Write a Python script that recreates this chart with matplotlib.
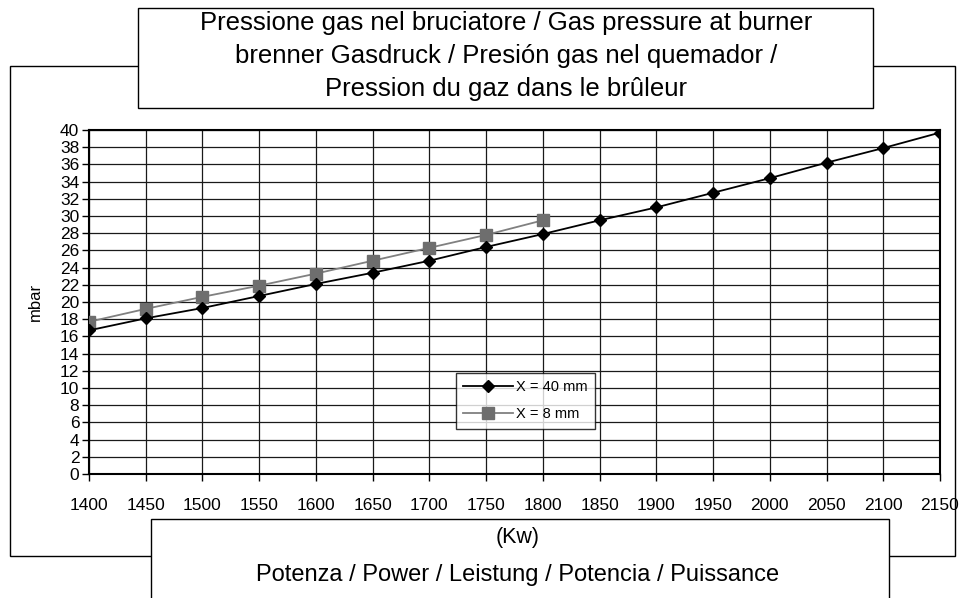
import numpy as np
import matplotlib
matplotlib.use("Agg")
import matplotlib.pyplot as plt
from matplotlib.patches import Rectangle

plt.rcParams['font.family'] = ['Liberation Sans', 'DejaVu Sans']

# data
power = [1400, 1450, 1500, 1550, 1600, 1650, 1700, 1750, 1800,
         1850, 1900, 1950, 2000, 2050, 2100, 2150]
p_40mm = [16.7, 18.1, 19.3, 20.7, 22.1, 23.4, 24.8, 26.4, 27.9,
          29.5, 31.0, 32.7, 34.4, 36.2, 37.9, 39.7]
power_8 = [1400, 1450, 1500, 1550, 1600, 1650, 1700, 1750, 1800]
p_8mm = [17.7, 19.2, 20.6, 21.9, 23.3, 24.8, 26.3, 27.8, 29.5]

labels = ['X = 40 mm', 'X = 8 mm']
title_lines = ["Pressione gas nel bruciatore / Gas pressure at burner",
               "brenner Gasdruck / Presión gas nel quemador /",
               "Pression du gaz dans le brûleur"]
xlabel1 = "(Kw)"
xlabel2 = "Potenza / Power / Leistung / Potencia / Puissance"

W, H = 960, 598
fig = plt.figure(figsize=(W / 100, H / 100), dpi=100)


def box(x0, y0, x1, y1, z):
    # rectangle from pixel corners (top-left origin)
    r = Rectangle((x0 / W, 1 - y1 / H), (x1 - x0) / W, (y1 - y0) / H,
                  transform=fig.transFigure, facecolor='white',
                  edgecolor='black', lw=1.0, zorder=z)
    fig.patches.append(r)


box(10, 66, 955, 556, 0)
box(138, 8, 873, 108, 1)
box(151, 519, 889, 640, 1)

for i, line in enumerate(title_lines):
    fig.text(506 / W, 1 - (23 + 33 * i) / H, line, ha='center', va='center',
             fontsize=18.5, zorder=3)
fig.text(518 / W, 1 - 538 / H, xlabel1, ha='center', va='center',
         fontsize=15.5, zorder=3)
fig.text(518 / W, 1 - 575 / H, xlabel2, ha='center', va='center',
         fontsize=17, zorder=3)

ax = fig.add_axes([89 / W, 1 - 474 / H, (940 - 89) / W, (474 - 130) / H])
ax.set_zorder(2)

ax.plot(power, p_40mm, color='black', lw=1.3, marker='D', ms=6.5,
        label=labels[0], zorder=4)
ax.plot(power_8, p_8mm, color='#808080', lw=1.3, marker='s', ms=8,
        mfc='#6e6e6e', mec='#6e6e6e', label=labels[1], zorder=3)

ax.set_xlim(1400, 2150)
ax.set_ylim(0, 40)
ax.set_xticks(np.arange(1400, 2151, 50))
ax.set_yticks(np.arange(0, 41, 2))
ax.grid(True, color='#1a1a1a', lw=0.9)
ax.set_axisbelow(True)
ax.tick_params(axis='x', direction='out', length=5, width=1,
               labelsize=12.5, pad=12)
ax.tick_params(axis='y', direction='out', length=5, width=1,
               labelsize=12.5, pad=2)
for s in ax.spines.values():
    s.set_linewidth(1.5)
ax.set_ylabel('mbar', fontsize=12, labelpad=12)

leg = ax.legend(loc='upper left', bbox_to_anchor=((456 - 89) / 851, (474 - 373) / 344),
                frameon=True, fancybox=False, edgecolor='black',
                fontsize=10.5, handlelength=3.4, borderpad=0.5,
                labelspacing=0.9, handletextpad=0.2, borderaxespad=0)
leg.get_frame().set_linewidth(1.0)

fig.savefig('out.png', dpi=100)
